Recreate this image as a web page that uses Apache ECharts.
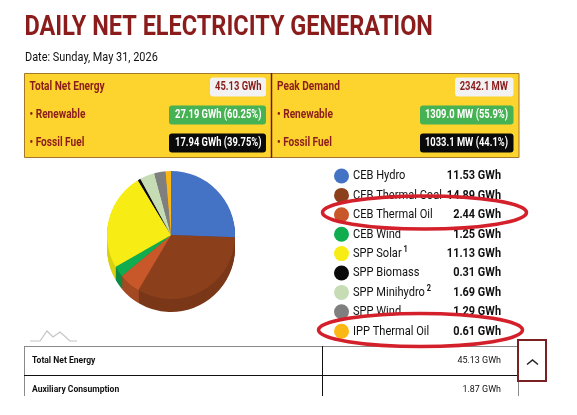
<!DOCTYPE html>
<html><head><meta charset="utf-8">
<style>html,body{margin:0;padding:0;background:#fff}#c{width:577px;height:415px}</style>
<script src="https://cdn.jsdelivr.net/npm/echarts@6/dist/echarts.min.js"></script>
</head><body><div id="c"></div>
<script>
const categories=['CEB Hydro','CEB Thermal Coal','CEB Thermal Oil','CEB Wind','SPP Solar','SPP Biomass','SPP Minihydro','SPP Wind','IPP Thermal Oil'];
const valuesGWh=[11.53,14.89,2.44,1.25,11.13,0.31,1.69,1.29,0.61];
const sup={'SPP Solar':'1','SPP Minihydro':'2'};
const topColors=['#4472c4','#8b3f1b','#c8582a','#10ad50','#f7ec13','#0a0a0a','#c5dcb5','#7f7f7f','#fbb714'];
const sideColors=['#35599a','#7a3819','#a34a22','#0c8a40','#d9d010','#000000','#a9bd9b','#6a6a6a','#d79c10'];
const title='DAILY NET ELECTRICITY GENERATION';
const dateText='Date: Sunday, May 31, 2026';
const panelLeft=[['Total Net Energy','45.13 GWh'],['• Renewable','27.19 GWh (60.25%)'],['• Fossil Fuel','17.94 GWh (39.75%)']];
const panelRight=[['Peak Demand','2342.1 MW'],['• Renewable','1309.0 MW (55.9%)'],['• Fossil Fuel','1033.1 MW (44.1%)']];
const tableRows=[['Total Net Energy','45.13 GWh'],['Auxiliary Consumption','1.87 GWh']];

const F='Roboto,"Liberation Sans",sans-serif';
const DARK='#8a1c1c';
const chart=echarts.init(document.getElementById('c'),null,{renderer:'canvas'});
// horizontally condensed text, to imitate the condensed face of the reference
function T(x,y,s,size,fill,weight,align,sx,z){return {type:'text',z:z||5,x,y,scaleX:sx||1,style:{x:0,y:0,text:s,font:(weight||'normal')+' '+size+'px '+F,fill,textAlign:align||'left',textVerticalAlign:'middle'}};}
function R(x,y,w,h,fill,r,z,stroke,lw){return {type:'rect',z:z||3,shape:{x,y,width:w,height:h,r:r||0},style:{fill,stroke:stroke||null,lineWidth:lw||0}};}
function L(x1,y1,x2,y2,c,w,z){return {type:'line',z:z||3,shape:{x1,y1,x2,y2},style:{stroke:c,lineWidth:w}};}
const rowY=[87,115,143];
const bg=[['#f2f2f2',DARK],['#46b253','#fff'],['#0a0a0a','#fff']];
const g=[
 T(24.5,28,title,27,DARK,'bold','left',0.87),
 T(25,58,dateText,13,'#111','normal','left',0.84),
 R(24.5,73.5,494.5,84,'#fdd32e',0,1,'#a5772a',1),
 L(271.5,73,271.5,158,'#7a1414',1.5),
];
const leftB=[[210,56],[169,97],[169,97]], rightB=[[455,58.5],[420,93.5],[420,93.5]];
[0,1,2].forEach(i=>{
 g.push(T(29.5,rowY[i],panelLeft[i][0],12.5,DARK,'bold','left',0.81));
 g.push(T(277,rowY[i],panelRight[i][0],12.5,DARK,'bold','left',0.81));
 g.push(R(leftB[i][0],rowY[i]-9.5,leftB[i][1],19,bg[i][0],3));
 g.push(R(rightB[i][0],rowY[i]-9.5,rightB[i][1],19,bg[i][0],3));
 g.push(T(261.5,rowY[i],panelLeft[i][1],12.5,bg[i][1],'bold','right',0.75));
 g.push(T(508,rowY[i],panelRight[i][1],12.5,bg[i][1],'bold','right',0.75));
});
// red highlight ellipses
g.push({type:'ellipse',z:50,shape:{cx:424.5,cy:212.5,rx:102,ry:16.5},style:{fill:null,stroke:'#d3202a',lineWidth:3.5}});
g.push({type:'ellipse',z:50,shape:{cx:420.5,cy:330,rx:102,ry:16.5},style:{fill:null,stroke:'#d3202a',lineWidth:3.5}});
// small logo
g.push({type:'polyline',z:3,shape:{points:[[30,341],[40,341],[47,331],[53,337],[60,332],[70,341],[77,341]]},style:{fill:null,stroke:'#c4c4c4',lineWidth:1.2}});
// table
g.push(L(24.5,346.5,519,346.5,'#8a8a8a',1));
g.push(L(24.5,346,24.5,396,'#8a8a8a',1));
g.push(L(518.5,346,518.5,396,'#8a8a8a',1));
g.push(L(24,375.5,519,375.5,'#111',1));
g.push(L(322.5,346,322.5,396,'#111',1));
tableRows.forEach((r,i)=>{
 const y=361+i*29;
 g.push(T(32,y,r[0],9.5,'#111','bold','left',0.9));
 g.push(T(501,y,r[1],9.5,'#111','normal','right',0.94));
});
// scroll button
g.push(R(518,340,28,41,'#fff',0,20,'#7a1f22',2));
g.push({type:'polyline',z:21,shape:{points:[[527,364.5],[532.5,360],[538,364.5]]},style:{fill:null,stroke:'#222',lineWidth:1.5}});
// legend text columns
categories.forEach((n,i)=>{
 const y=176+i*19.4;
 const t=T(353,y,sup[n]?'{n|'+n+'}{s| '+sup[n]+'}':n,13.5,'#111','normal','left',0.82,6);
 if(sup[n]) t.style.rich={n:{font:'13.5px '+F,fill:'#111'},s:{font:'bold 9px '+F,fill:'#111',verticalAlign:'top',padding:[0,0,7,0]}};
 g.push(t);
 g.push(T(501,y,valuesGWh[i].toFixed(2)+' GWh',13.5,'#111','bold','right',0.81,6));
});

const pieData=colors=>categories.map((n,i)=>({name:n,value:valuesGWh[i],itemStyle:{color:colors[i]}}));
const R0=64, CX=171, CY=235, DEPTH=13;
const series=[{type:'pie',name:'Generation',center:[CX,CY],radius:[0,R0],startAngle:90,clockwise:true,label:{show:false},labelLine:{show:false},data:pieData(topColors),z:3}];
for(let d=DEPTH;d>=1;d--){
 series.push({type:'pie',silent:true,center:[CX,CY+d],radius:[0,R0],startAngle:90,clockwise:true,label:{show:false},labelLine:{show:false},legendHoverLink:false,data:pieData(sideColors),z:2});
}
chart.setOption({
 animation:false,
 graphic:{elements:g},
 legend:{orient:'vertical',left:334,top:168.5,padding:0,itemWidth:15,itemHeight:15,itemGap:4.4,icon:'circle',selectedMode:false,
  data:categories,formatter:()=>' ',textStyle:{fontSize:14}},
 series
});
</script></body></html>
